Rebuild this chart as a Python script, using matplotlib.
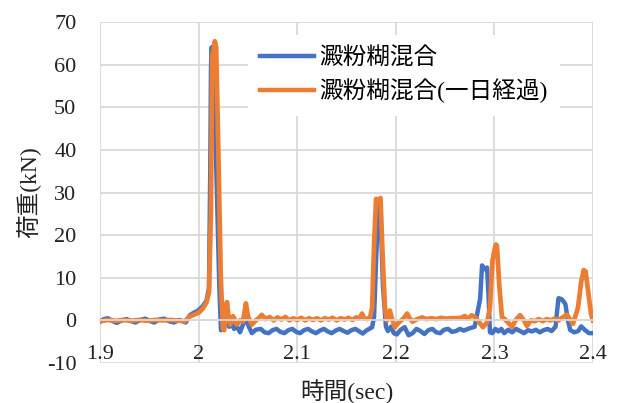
import matplotlib
matplotlib.use("Agg")
import matplotlib.pyplot as plt

plt.rcParams['font.family'] = ['Liberation Serif', 'Noto Sans CJK JP']
plt.rcParams['axes.unicode_minus'] = False

# 澱粉糊混合 (blue)
blue_t = [1.900, 1.904, 1.908, 1.913, 1.917, 1.922, 1.927, 1.932, 1.936, 1.941,
          1.946, 1.951, 1.955, 1.960, 1.965, 1.970, 1.975, 1.980, 1.984, 1.987,
          1.991, 1.996, 1.999, 2.004, 2.008, 2.0105, 2.0118, 2.0125, 2.013, 2.0145,
          2.015, 2.018, 2.021, 2.0227, 2.025, 2.027, 2.0288, 2.031, 2.0335, 2.036,
          2.039, 2.042, 2.045, 2.048, 2.051, 2.054, 2.058, 2.063, 2.067, 2.071,
          2.075, 2.079, 2.083, 2.087, 2.091, 2.095, 2.099, 2.103, 2.107, 2.111,
          2.115, 2.119, 2.123, 2.127, 2.131, 2.135, 2.139, 2.143, 2.147, 2.151,
          2.155, 2.159, 2.163, 2.1665, 2.170, 2.173, 2.176, 2.178, 2.180, 2.182,
          2.1835, 2.185, 2.187, 2.190, 2.192, 2.195, 2.198, 2.201, 2.205, 2.209,
          2.213, 2.217, 2.221, 2.225, 2.229, 2.233, 2.237, 2.241, 2.245, 2.249,
          2.253, 2.257, 2.261, 2.265, 2.269, 2.273, 2.277, 2.280, 2.2855, 2.2875,
          2.290, 2.2925, 2.294, 2.2955, 2.298, 2.301, 2.304, 2.307, 2.310, 2.314,
          2.318, 2.322, 2.326, 2.330, 2.334, 2.338, 2.342, 2.346, 2.350, 2.354,
          2.358, 2.362, 2.3635, 2.365, 2.368, 2.370, 2.372, 2.3745, 2.377, 2.381,
          2.385, 2.388, 2.392, 2.396, 2.400]
blue_y = [-0.3, 0.3, 0.5, -0.2, -0.6, 0.0, 0.3, -0.2, -0.5, 0.1,
          0.4, -0.2, -0.5, 0.2, 0.4, -0.2, -0.5, 0.1, -0.2, -0.5,
          1.2, 1.9, 2.2, 3.3, 4.6, 7.5, 35, 58, 64.0, 64.2,
          62, 35, 8, -2.3, -2.0, -0.5, 1.5, -1.5, -0.8, -2.0,
          -1.5, -2.8, -1.0, 0.5, -1.5, -3.0, -2.2, -2.0, -2.8, -3.0,
          -2.3, -2.0, -2.7, -3.0, -2.3, -2.0, -2.7, -3.0, -2.3, -2.0,
          -2.6, -3.0, -2.4, -2.0, -2.6, -3.0, -2.4, -2.0, -2.5, -2.9,
          -2.3, -2.0, -2.6, -3.1, -2.4, -2.0, -1.6, 1.0, 14, 25,
          27.5, 22, 8, -1.5, -2.5, -1.5, -3.0, -3.3, -2.2, -1.6,
          -3.5, -3.0, -2.0, -2.5, -3.2, -2.3, -2.0, -2.8, -3.0, -2.2,
          -2.0, -2.7, -2.5, -2.0, -2.4, -2.0, -1.7, -1.5, 5, 12.9,
          12.0, 12.4, 6, -2.8, -3.0, -2.0, -2.6, -2.0, -3.0, -2.2,
          -2.8, -2.0, -2.5, -3.0, -2.3, -2.6, -2.2, -2.8, -2.3, -2.0,
          -2.5, -1.5, 2.0, 5.2, 5.0, 4.5, 3.8, 0, -2.3, -2.8,
          -2.5, -1.4, -2.3, -3.0, -3.0]

# 澱粉糊混合(一日経過) (orange)
orange_t = [1.900, 1.908, 1.916, 1.924, 1.932, 1.940, 1.948, 1.956, 1.964, 1.972,
            1.980, 1.986, 1.991, 1.996, 2.000, 2.004, 2.008, 2.0105, 2.0125, 2.0138,
            2.015, 2.0165, 2.0178, 2.020, 2.0225, 2.0247, 2.026, 2.027, 2.0288, 2.0305,
            2.032, 2.0349, 2.039, 2.042, 2.045, 2.047, 2.048, 2.050, 2.054, 2.058,
            2.061, 2.064, 2.068, 2.072, 2.076, 2.080, 2.084, 2.088, 2.092, 2.096,
            2.100, 2.104, 2.108, 2.112, 2.116, 2.120, 2.124, 2.128, 2.132, 2.136,
            2.140, 2.144, 2.148, 2.152, 2.156, 2.160, 2.1635, 2.1657, 2.168, 2.171,
            2.174, 2.176, 2.178, 2.180, 2.1825, 2.1845, 2.1865, 2.189, 2.191, 2.194,
            2.196, 2.199, 2.203, 2.208, 2.2115, 2.214, 2.217, 2.221, 2.2266, 2.231,
            2.236, 2.241, 2.246, 2.251, 2.256, 2.261, 2.266, 2.270, 2.273, 2.277,
            2.280, 2.283, 2.2884, 2.2925, 2.2955, 2.298, 2.3006, 2.3016, 2.3026, 2.305,
            2.3077, 2.311, 2.3178, 2.322, 2.326, 2.330, 2.333, 2.337, 2.341, 2.345,
            2.349, 2.353, 2.357, 2.361, 2.365, 2.369, 2.3736, 2.3797, 2.3848, 2.388,
            2.3905, 2.3925, 2.395, 2.398, 2.400]
orange_y = [-0.2, 0.1, -0.1, 0.1, -0.1, 0.1, -0.1, 0.1, 0.0, 0.1,
            -0.1, -0.2, 0.9, 1.4, 1.8, 2.7, 4.2, 6.5, 25, 62,
            63.0, 65.5, 64, 40, 10, -2.0, -2.3, 1.0, 4.3, 0.5,
            -1.0, 1.0, -1.0, 0.0, -0.3, 2.5, 4.0, 1.0, -1.0, 0.0,
            0.5, 1.3, 0.3, 0.8, 0.0, 0.7, 0.2, 0.8, 0.0, 0.5,
            0.1, 0.6, 0.0, 0.5, 0.1, 0.5, 0.0, 0.5, 0.2, 0.6,
            0.0, 0.5, 0.2, 0.6, 0.1, 0.7, 0.4, 1.6, 0.5, 0.3,
            0.8, 3, 18, 28.5, 28.0, 28.7, 16, 3, 0, 2.3,
            0.5, -1.6, -0.5, 0.5, 1.6, 0.5, -0.3, 0.2, 0.7, 0.3,
            0.5, 0.3, 0.6, 0.4, 0.5, 0.5, 0.6, 1.0, 0.4, 1.2,
            0.8, 0.0, -1.6, -0.5, 3, 14, 17.0, 17.8, 17.5, 8,
            0.7, 0.2, -1.5, 0.2, 1.2, 0.0, -1.3, 0.0, -0.2, 0.3,
            -0.2, 0.3, 0.0, 0.4, 0.0, 0.7, 1.3, -0.8, 3, 9,
            11.8, 11.5, 7, 1.5, 0.0]

x_ticks = [1.9, 2.0, 2.1, 2.2, 2.3, 2.4]
x_tick_labels = ['1.9', '2', '2.1', '2.2', '2.3', '2.4']
y_ticks = [-10, 0, 10, 20, 30, 40, 50, 60, 70]

fig = plt.figure(figsize=(6.21, 4.03), dpi=100)
ax = fig.add_axes([100 / 621, 40 / 403, 493 / 621, 341 / 403])

ax.plot(blue_t, blue_y, color='#4472C4', lw=3.2, label='澱粉糊混合', solid_joinstyle='round')
ax.plot(orange_t, orange_y, color='#ED7D31', lw=3.4, label='澱粉糊混合(一日経過)', solid_joinstyle='round')

ax.set_xlim(1.9, 2.4)
ax.set_ylim(-10, 70)
ax.set_xticks(x_ticks)
ax.set_xticklabels(x_tick_labels)
ax.set_yticks(y_ticks)

ax.grid(True, color='#d9d9d9', lw=1.3)
ax.set_axisbelow(True)
for s in ['top', 'right', 'left']:
    ax.spines[s].set_visible(False)
ax.spines['bottom'].set_position(('data', 0))
ax.spines['bottom'].set_color('#d9d9d9')
ax.spines['bottom'].set_linewidth(1.3)

ax.tick_params(axis='x', length=0, pad=18, labelsize=16, colors='#222222')
ax.tick_params(axis='y', length=0, pad=17, labelsize=16, colors='#222222')

ax.set_xlabel('時間(sec)', fontsize=17, color='#222222')
ax.xaxis.set_label_coords(0.5, -0.048)
ax.xaxis.label.set_va('top')
ax.set_ylabel('荷重(kN)', fontsize=17, color='#222222')
ax.yaxis.set_label_coords(-0.118, 0.5)

leg = ax.legend(loc='upper left', bbox_to_anchor=(0.30, 0.962), borderaxespad=0,
                fontsize=17, frameon=True, fancybox=False, framealpha=1,
                handlelength=2.25, handletextpad=0.22, labelspacing=0.39, borderpad=0.53)
leg.get_frame().set_edgecolor('none')
leg.get_frame().set_facecolor('white')
for line in leg.get_lines():
    line.set_linewidth(3.2)

fig.savefig('out.png', dpi=100)
